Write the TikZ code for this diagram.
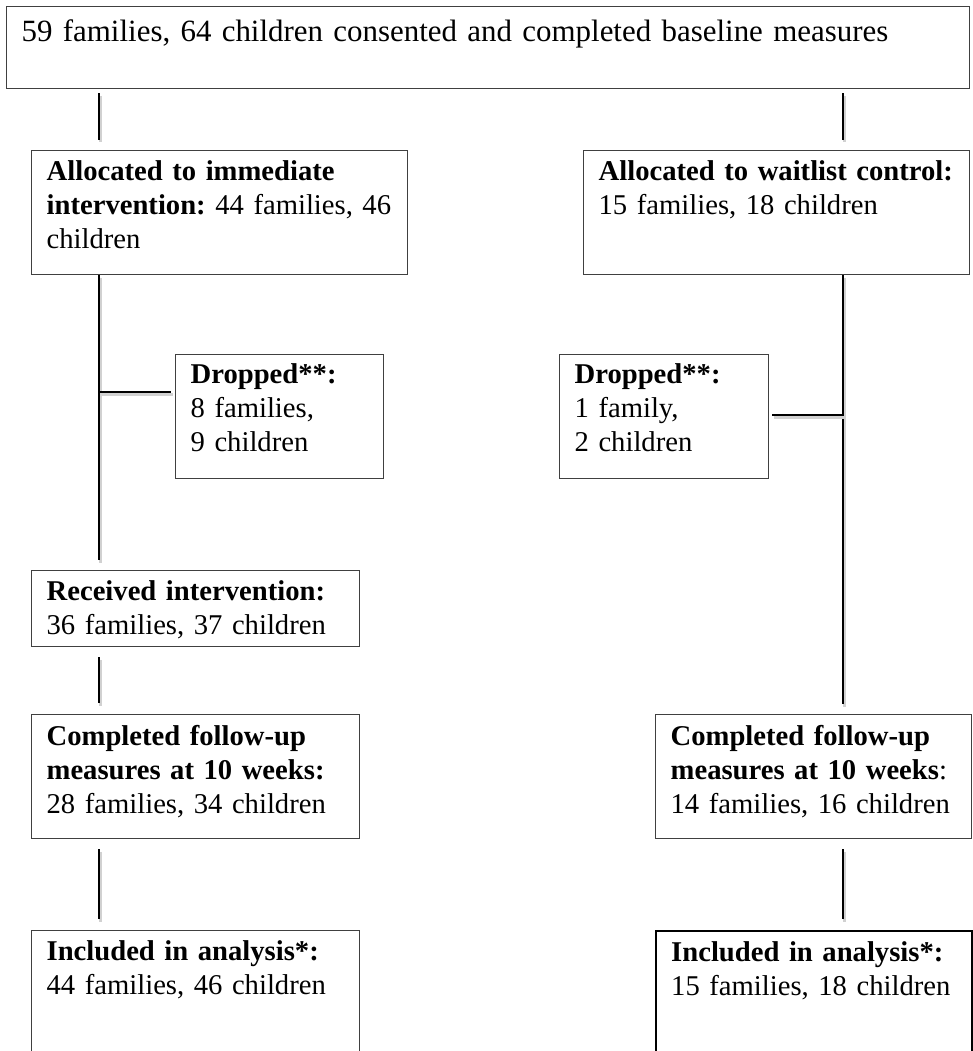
\documentclass[tikz,border=0pt]{standalone}
\usepackage{fontspec}
\setmainfont{Liberation Serif}
\begin{document}
\begin{tikzpicture}[x=0.2mm,y=-0.2mm,
  box/.style={draw=black!75, line width=0.75pt, anchor=north west, align=left,
    inner xsep=3mm, inner ysep=0pt, text height=6mm,
    font=\fontsize{16.3}{19.35}\selectfont\frenchspacing},
  link/.style={line width=1.5pt, line cap=butt,
    preaction={draw=black!18, line width=1.7pt,
      transform canvas={shift={(0.3mm,-0.5mm)}}}}]

\useasboundingbox (0,0) rectangle (972,1051);

% boxes
\node[box, text width=186.6mm, text height=7mm, text depth=9.4mm,
  font=\fontsize{17.6}{20}\selectfont\frenchspacing] (b) at (6,6)
  {59 families, 64 children consented and completed baseline measures};
\node[box, text width=69.2mm, text depth=18.8mm] (b-1) at (31,150)
  {\textbf{Allocated to immediate}\\\mbox{\textbf{intervention:} 44 families, 46}\\children};
\node[box, text width=71.2mm, text depth=18.8mm] (b-2) at (583,150)
  {\mbox{\textbf{Allocated to waitlist control:}}\\15 families, 18 children};
\node[box, text width=35.6mm, text height=5.8mm, text depth=19mm] (b-1-d) at (175,354)
  {\textbf{Dropped**:}\\8 families,\\9 children};
\node[box, text width=35.8mm, text height=5.8mm, text depth=19mm] (b-2-d) at (559,354)
  {\textbf{Dropped**:}\\1 family,\\2 children};
\node[box, text width=59.6mm, text depth=9.2mm] (b-1-1) at (31,570)
  {\textbf{Received intervention:}\\36 families, 37 children};
\node[box, text width=59.6mm, text height=6.2mm, text depth=18.6mm] (b-1-1-1) at (31,714)
  {\textbf{Completed follow-up}\\\textbf{measures at 10 weeks:}\\28 families, 34 children};
\node[box, text width=57.2mm, text height=6.2mm, text depth=18.6mm] (b-2-1) at (655,714)
  {\textbf{Completed follow-up}\\\mbox{\textbf{measures at 10 weeks}:}\\14 families, 16 children};
\node[box, text width=59.6mm, text depth=26mm] (b-1-1-1-1) at (31,930)
  {\textbf{Included in analysis*:}\\44 families, 46 children};
\node[box, line width=1.4pt, draw=black, text width=57.2mm, text depth=26mm] (b-2-1-1) at (655,930)
  {\textbf{Included in analysis*:}\\15 families, 18 children};

% spines and junctions
\coordinate (sL) at (99,0);
\coordinate (sR) at (843,0);
\coordinate (jL) at (99,392);
\coordinate (jR) at (843,415);

\foreach \from/\to/\s/\a/\b in {b/b-1/sL/0.8mm/2mm, b/b-2/sR/0.8mm/2mm,
    b-1/b-1-1/sL/0mm/2mm, b-2/b-2-1/sR/0mm/2mm,
    b-1-1/b-1-1-1/sL/2mm/2.2mm, b-1-1-1/b-1-1-1-1/sL/2mm/2.2mm,
    b-2-1/b-2-1-1/sR/2mm/2.2mm}
  \draw[link, shorten <=\a, shorten >=\b] (\from.south -| \s) -- (\to.north -| \s);

\draw[link, shorten >=0.8mm] (jL) -- (jL -| b-1-d.west);
\draw[link, shorten >=0.6mm] (jR) -- (jR -| b-2-d.east);
\end{tikzpicture}
\end{document}
